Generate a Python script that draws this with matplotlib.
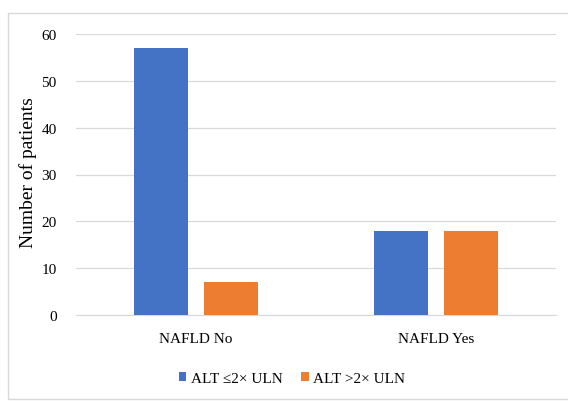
import matplotlib
matplotlib.use("Agg")
import matplotlib.pyplot as plt
import numpy as np

# data
categories = ["NAFLD No", "NAFLD Yes"]
series_names = ["ALT \u22642\u00d7 ULN", "ALT >2\u00d7 ULN"]
alt_low = [57, 18]
alt_high = [7, 18]
colors = ["#4472C4", "#ED7D31"]

plt.rcParams['font.family'] = ['Liberation Serif', 'DejaVu Serif']

fig = plt.figure(figsize=(5.68, 4.02), dpi=100)
# light frame around the chart area
fig.patches.append(plt.Rectangle((8/568, 2/402), 1.2, 1 - 16/402, transform=fig.transFigure,
                                 fill=False, edgecolor="#d9d9d9", linewidth=1))
ax = fig.add_axes([76/568, 1 - 316/402, 480/568, (316 - 35)/402])

x = np.arange(len(categories))
w = 0.225
off = 0.144
ax.bar(x - off, alt_low, w, color=colors[0], label=series_names[0], zorder=3)
ax.bar(x + off, alt_high, w, color=colors[1], label=series_names[1], zorder=3)

ax.set_xlim(-0.5, 1.5)
ax.set_ylim(0, 60)
ax.set_yticks(range(0, 61, 10))
ax.set_xticks(x)
ax.set_xticklabels(categories, fontsize=11)
ax.tick_params(axis='y', labelsize=11, length=0, pad=14)
ax.tick_params(axis='x', length=0, pad=12)
ax.yaxis.grid(True, color="#d9d9d9", linewidth=0.9, zorder=0)
for s in ["top", "right", "left"]:
    ax.spines[s].set_visible(False)
ax.spines["bottom"].set_color("#d9d9d9")
ax.set_ylabel("Number of patients", fontsize=14)
ax.yaxis.set_label_coords(-0.082, 0.51)

ax.legend(loc="center", bbox_to_anchor=(0.45, -0.225), ncol=2, frameon=False,
          fontsize=11, handlelength=0.5, handleheight=0.5, handletextpad=0.3,
          columnspacing=1.2)

fig.savefig("out.png", dpi=100)
